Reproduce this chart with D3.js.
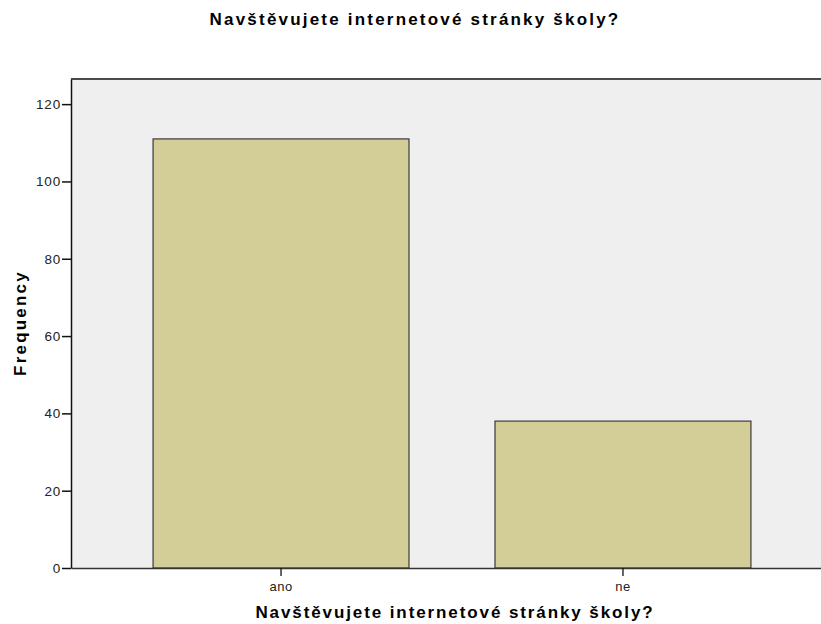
<!DOCTYPE html>
<html><head><meta charset="utf-8">
<script src="https://cdn.jsdelivr.net/npm/d3@7"></script>
<style>body{margin:0;background:#fff}svg{display:block}</style>
</head><body>
<svg id="c" width="821" height="624"></svg>
<script>
const categories = ["ano", "ne"];
const frequencies = [111, 38];
const yTicks = [0, 20, 40, 60, 80, 100, 120];
const chartTitle = "Navštěvujete internetové stránky školy?";
const xTitle = "Navštěvujete internetové stránky školy?";
const yTitle = "Frequency";

(function () {
const FONT = "Arial, 'Liberation Sans', sans-serif";
const svg = d3.select("#c");
const pLeft = 71, pTop = 79, pBottom = 568, pRight = 833;
const x = d3.scaleBand().domain(categories).range([pLeft, pRight]).paddingInner(0.2515).paddingOuter(0.24);
const y = d3.scaleLinear().domain([0, 126.5]).range([pBottom, pTop]);

svg.append("rect").attr("x", pLeft).attr("y", pTop).attr("width", pRight - pLeft).attr("height", pBottom - pTop).attr("fill", "#efefef");
svg.append("line").attr("x1", pLeft).attr("x2", 821).attr("y1", pTop).attr("y2", pTop).attr("stroke", "#4a4a4a").attr("stroke-width", 2);

svg.selectAll(".bar").data(categories).enter().append("rect")
  .attr("x", d => x(d)).attr("width", x.bandwidth())
  .attr("y", (d, i) => y(frequencies[i])).attr("height", (d, i) => y(0) - y(frequencies[i]))
  .attr("fill", "#d3ce97").attr("stroke", "#3a3a3a").attr("stroke-width", 1.2);

const ya = svg.append("g").attr("transform", `translate(${pLeft},0)`)
  .call(d3.axisLeft(y).tickValues(yTicks).tickSize(9).tickPadding(1).tickSizeOuter(0));
ya.select(".domain").attr("stroke", "#111").attr("stroke-width", 1.5);
ya.selectAll(".tick line").attr("stroke", "#111").attr("stroke-width", 1.5);
ya.selectAll("text").attr("font-family", FONT).attr("font-size", 13.5).attr("letter-spacing", 0.8).attr("fill", "#222");

const xa = svg.append("g").attr("transform", `translate(0,${pBottom})`)
  .call(d3.axisBottom(x).tickSize(8).tickPadding(6).tickSizeOuter(0));
xa.select(".domain").attr("stroke", "#333").attr("stroke-width", 1.5);
xa.selectAll(".tick line").attr("stroke", "#111").attr("stroke-width", 1.3);
xa.selectAll("text").attr("font-family", FONT).attr("font-size", 13).attr("letter-spacing", 0.5).attr("fill", "#222");

svg.append("text").attr("x", 415).attr("y", 25).attr("text-anchor", "middle")
  .attr("font-family", FONT).attr("font-weight", "bold").attr("font-size", 17).attr("letter-spacing", 2.2).attr("fill", "#000").text(chartTitle);
svg.append("text").attr("x", 455).attr("y", 618).attr("text-anchor", "middle")
  .attr("font-family", FONT).attr("font-weight", "bold").attr("font-size", 17).attr("letter-spacing", 1.9).attr("fill", "#000").text(xTitle);
svg.append("text").attr("transform", `translate(26,323) rotate(-90)`).attr("text-anchor", "middle")
  .attr("font-family", FONT).attr("font-weight", "bold").attr("font-size", 17).attr("letter-spacing", 2.2).attr("fill", "#000").text(yTitle);
})();
</script>
</body></html>
